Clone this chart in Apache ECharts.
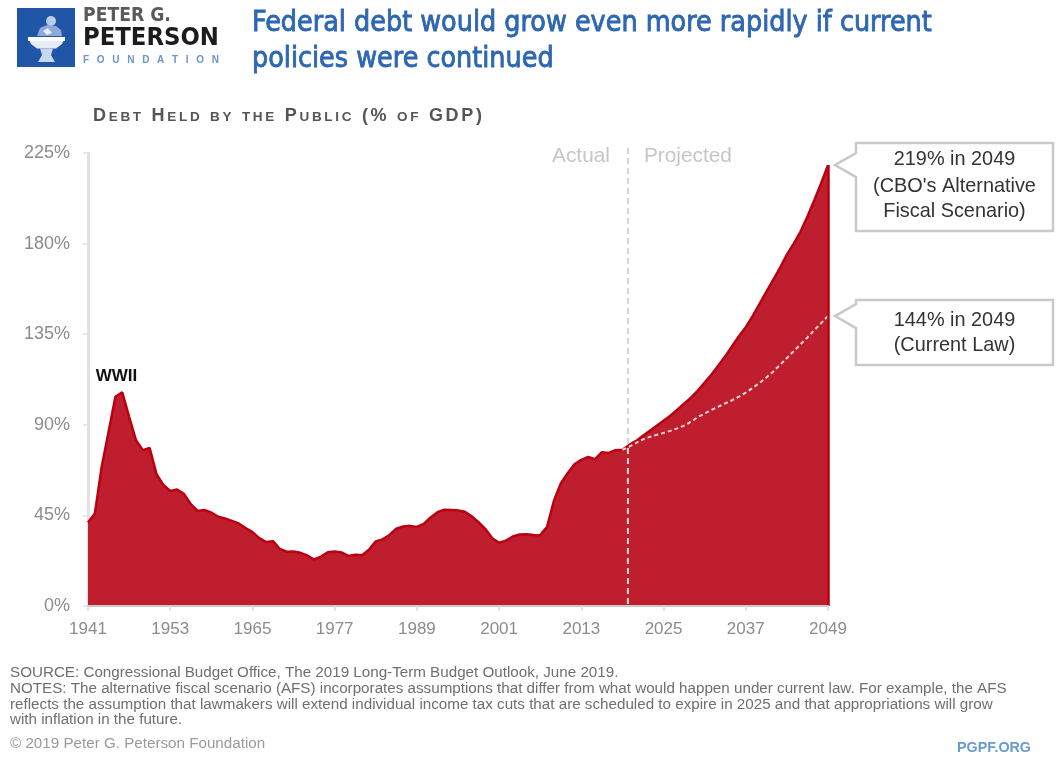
<!DOCTYPE html>
<html><head><meta charset="utf-8">
<script src="https://cdn.jsdelivr.net/npm/echarts@6/dist/echarts.min.js"></script>
<style>html,body{margin:0;padding:0;background:#fff}#c{width:1060px;height:757px}</style>
</head><body><div id="c"></div>
<script>
// ---------------- data ----------------
const startYear = 1941, endYear = 2049;
// Debt held by the public, % of GDP, actual 1941-2019
const histValues = [
 41.5, 45.9, 69.2, 86.4, 103.9, 106.1, 93.9, 82.4, 77.4, 78.5,
 65.5, 60.1, 57.1, 57.9, 55.7, 50.6, 47.2, 47.7, 46.4, 44.3,
 43.5, 42.3, 41.0, 38.7, 36.7, 33.7, 31.8, 32.2, 28.3, 27.0,
 27.1, 26.4, 25.1, 23.1, 24.5, 26.7, 27.1, 26.6, 24.9, 25.5,
 25.2, 27.9, 32.1, 33.1, 35.3, 38.4, 39.5, 39.8, 39.3, 40.8,
 44.0, 46.6, 47.8, 47.7, 47.5, 46.8, 44.5, 41.6, 38.2, 33.6,
 31.4, 32.5, 34.5, 35.5, 35.6, 35.3, 35.2, 39.3, 52.3, 60.9,
 65.9, 70.4, 72.6, 74.1, 72.9, 76.4, 76.0, 77.4, 77.6
];
// CBO's Alternative Fiscal Scenario, 2020-2049
const afsProjection = [
 80.0, 82.0, 84.5, 87.0, 89.5, 92.0, 94.5, 97.5, 100.5, 103.5,
 107.0, 111.0, 115.0, 119.5, 124.0, 129.0, 134.0, 138.5, 144.0, 150.0,
 156.0, 162.0, 168.0, 174.5, 180.0, 186.0, 193.5, 201.5, 210.0, 219.0
];
// Current law (extended baseline), 2020-2049
const currentLawProjection = [
 79.2, 81.0, 82.8, 84.0, 85.0, 86.0, 87.0, 88.2, 89.6, 91.5,
 93.8, 95.6, 97.4, 99.0, 100.6, 102.2, 104.0, 106.0, 108.3, 110.8,
 113.5, 116.4, 119.8, 123.2, 126.6, 130.0, 133.4, 137.0, 140.5, 144.0
];
const xTickLabels = ['1941','1953','1965','1977','1989','2001','2013','2025','2037','2049'];
const yTicks = [0, 45, 90, 135, 180, 225];

const years = [];
for (let y = startYear; y <= endYear; y++) years.push(String(y));
const areaData = histValues.concat(afsProjection);
const clData = new Array(histValues.length - 1).fill(null)
  .concat([histValues[histValues.length - 1]], currentLawProjection);

// ---------------- fonts / helpers ----------------
const SANS = "'Liberation Sans', Arial, sans-serif";
const NARROW = "'Liberation Sans Narrow', 'DejaVu Sans Condensed', sans-serif";
const mctx = document.createElement('canvas').getContext('2d');
function textW(str, size, family, weight) {
  mctx.font = (weight || 'normal') + ' ' + size + 'px ' + family;
  return mctx.measureText(str).width;
}
function fit(str, targetW, family, weight) {
  return 100 * targetW / textW(str, 100, family, weight);
}
function txt(str, x, y, size, family, weight, fill, align, strokeW) {
  const st = { text: str, font: (weight || 'normal') + ' ' + size + 'px ' + family,
      fill: fill, align: align || 'left', verticalAlign: 'middle' };
  if (strokeW) { st.stroke = fill; st.lineWidth = strokeW; }
  return { type: 'text', x: x, y: y, z: 100, style: st };
}
function spaced(str, x0, baseline, targetW, bigSize, smallSize, family, weight, fill, smallCaps) {
  const chars = [];
  for (const ch of str) {
    const lower = smallCaps && ch >= 'a' && ch <= 'z';
    chars.push({ t: lower ? ch.toUpperCase() : ch, s: lower ? smallSize : bigSize });
  }
  const ws = chars.map(c => textW(c.t, c.s, family, weight));
  const natural = ws.reduce((a, b) => a + b, 0);
  const gap = (targetW - natural) / (chars.length - 1);
  let x = x0;
  return chars.map((c, i) => {
    const el = txt(c.t, x, baseline - 0.35 * c.s, c.s, family, weight, fill, 'left');
    x += ws[i] + gap;
    return el;
  });
}

// ---------------- chart ----------------
const chart = echarts.init(document.getElementById('c'), null, { renderer: 'canvas' });
const tickFn = (idx, val) => xTickLabels.indexOf(val) >= 0;

chart.setOption({
  animation: false,
  backgroundColor: '#ffffff',
  grid: { left: 88, right: 232, top: 153, bottom: 151 },
  xAxis: {
    type: 'category', data: years, boundaryGap: false, z: 5,
    axisLine: { lineStyle: { color: '#c8c8c8', width: 2 } },
    axisTick: { show: true, interval: tickFn, length: 5, lineStyle: { color: '#dadada', width: 1.5 } },
    axisLabel: { interval: tickFn, color: '#8c8c8c', fontSize: 17, fontFamily: SANS, margin: 15 },
    splitLine: { show: false }
  },
  yAxis: {
    type: 'value', min: yTicks[0], max: yTicks[yTicks.length - 1], interval: 45,
    axisLine: { show: true, lineStyle: { color: '#e2e2e2', width: 3 } },
    axisTick: { show: true, length: 5, lineStyle: { color: '#e2e2e2', width: 1.5 } },
    axisLabel: { formatter: '{value}%', color: '#8c8c8c', fontSize: 18, fontFamily: SANS, margin: 18 },
    splitLine: { show: false }
  },
  series: [
    {
      type: 'line', name: 'Debt held by the public', data: areaData,
      symbol: 'none', z: 2,
      lineStyle: { color: '#bb0010', width: 2.5 },
      areaStyle: { color: '#bf1e2e', opacity: 1 },
      markLine: {
        silent: true, symbol: ['none', 'none'], label: { show: false },
        lineStyle: { color: '#bb0010', width: 2.5, type: 'solid' },
        data: [[{ coord: [years[years.length - 1], 0] },
                { coord: [years[years.length - 1], afsProjection[afsProjection.length - 1]] }]]
      }
    },
    {
      type: 'line', name: 'Current law', data: clData, symbol: 'none', z: 3,
      lineStyle: { color: '#f8d8da', width: 2, type: [4, 3] }
    }
  ]
});

// ---------------- annotations / text ----------------
function px(yearStr, v) { return chart.convertToPixel({ gridIndex: 0 }, [yearStr, v]); }
const g = [];

// logo
g.push({ type: 'rect', z: 100, shape: { x: 17, y: 8, width: 58, height: 59 }, style: { fill: '#1f56a6' } });
g.push({ type: 'polygon', z: 101, shape: { points: [[28,37],[65,37],[62,44],[56,48.5],[37,48.5],[31,44]] }, style: { fill: '#e6edf8' } });
g.push({ type: 'rect', z: 101, shape: { x: 28, y: 37, width: 37, height: 4 }, style: { fill: '#ffffff' } });
g.push({ type: 'polygon', z: 101, shape: { points: [[40,48.5],[53,48.5],[51,55],[55,62],[38,62],[42,55]] }, style: { fill: '#c8d6ee' } });
g.push({ type: 'polygon', z: 101, shape: { points: [[37,36],[40,28],[47,25],[56,26],[61,30],[62,36]] }, style: { fill: '#8fa9d8' } });
g.push({ type: 'circle', z: 102, shape: { cx: 51, cy: 21, r: 5 }, style: { fill: '#b9cbe9' } });
g.push({ type: 'polygon', z: 102, shape: { points: [[43,31],[48,28],[52,33],[47,35]] }, style: { fill: '#e8eef8' } });
g.push(txt('PETER G.', 83, 16.5, fit('PETER G.', 88, NARROW, 'bold'), NARROW, 'bold', '#5a5a5a'));
g.push(txt('PETERSON', 83, 38.5, fit('PETERSON', 136, NARROW, 'bold'), NARROW, 'bold', '#1c1c1c'));
g.push(...spaced('FOUNDATION', 83, 63.5, 136, 10, 10, SANS, 'bold', '#6b93cc', false));

// title
const titleSize = fit('Federal debt would grow even more rapidly if current', 680, NARROW, 'normal');
g.push(txt('Federal debt would grow even more rapidly if current', 252, 34 - 0.35 * titleSize, titleSize, NARROW, 'normal', '#2d66b1', 'left', 0.8));
g.push(txt('policies were continued', 252, 70 - 0.35 * titleSize, titleSize, NARROW, 'normal', '#2d66b1', 'left', 0.8));

// subtitle (small caps)
g.push(...spaced('Debt Held by the Public (% of GDP)', 93, 122, 389, 18, 13.5, SANS, 'bold', '#555555', true));

// divider Actual | Projected
const p19 = px('2019', 0), p20 = px('2020', 0);
const divX = p19[0] + 0.8 * (p20[0] - p19[0]);
g.push({ type: 'line', z: 100, shape: { x1: divX, y1: 148, x2: divX, y2: p19[1] },
  style: { stroke: '#d6d6d6', lineWidth: 2, lineDash: [6, 4] } });
const apSize = fit('Projected', 88, SANS, 'normal');
g.push(txt('Actual', divX - 18, 156, apSize, SANS, 'normal', '#c6c6c6', 'right'));
g.push(txt('Projected', divX + 16, 156, apSize, SANS, 'normal', '#c6c6c6', 'left'));

// WWII label
const pw = px('1945', histValues[4]);
g.push(txt('WWII', pw[0] + 1, pw[1] - 21, 17, SANS, 'bold', '#111111', 'center'));

// callout boxes
const annSize = fit("(CBO's Alternative", 163, SANS, 'normal');
function callout(apex, left, right, top, bottom, lines, lineYs) {
  const wTop = apex[1] - 12, wBot = apex[1] + 12;
  g.push({ type: 'polygon', z: 100,
    shape: { points: [[left, top], [right, top], [right, bottom], [left, bottom], [left, wBot], apex, [left, wTop]] },
    style: { fill: '#ffffff', stroke: '#c9c9c9', lineWidth: 2.5, lineJoin: 'miter' } });
  const cx = (left + right) / 2;
  lines.forEach((s, i) => g.push(txt(s, cx, lineYs[i], annSize, SANS, 'normal', '#333333', 'center')));
}
const pA = px(years[years.length - 1], afsProjection[afsProjection.length - 1]);
const pC = px(years[years.length - 1], currentLawProjection[currentLawProjection.length - 1]);
callout([pA[0] + 7, pA[1]], 856, 1053, 143, 231,
  ['219% in 2049', "(CBO's Alternative", 'Fiscal Scenario)'], [160, 186.5, 211.5]);
callout([pC[0] + 7, pC[1]], 856, 1053, 300, 365,
  ['144% in 2049', '(Current Law)'], [320.5, 346]);

// footer
const notes1 = 'NOTES: The alternative fiscal scenario (AFS) incorporates assumptions that differ from what would happen under current law. For example, the AFS';
const notes2 = 'reflects the assumption that lawmakers will extend individual income tax cuts that are scheduled to expire in 2025 and that appropriations will grow';
const notes3 = 'with inflation in the future.';
const source = 'SOURCE: Congressional Budget Office, The 2019 Long-Term Budget Outlook, June 2019.';
const footSize = fit(notes1, 998, SANS, 'normal');
g.push(txt(source, 10, 673, footSize, SANS, 'normal', '#6f6f6f'));
g.push(txt(notes1, 10, 688.5, footSize, SANS, 'normal', '#6f6f6f'));
g.push(txt(notes2, 10, 704.5, footSize, SANS, 'normal', '#6f6f6f'));
g.push(txt(notes3, 10, 720, footSize, SANS, 'normal', '#6f6f6f'));
g.push(txt('\u00A9 2019 Peter G. Peterson Foundation', 10, 744, footSize, SANS, 'normal', '#9a9a9a'));
g.push(txt('PGPF.ORG', 1031, 748.5, fit('PGPF.ORG', 74, SANS, 'bold'), SANS, 'bold', '#6a9ad2', 'right'));

chart.setOption({ graphic: { elements: g } });
</script></body></html>
